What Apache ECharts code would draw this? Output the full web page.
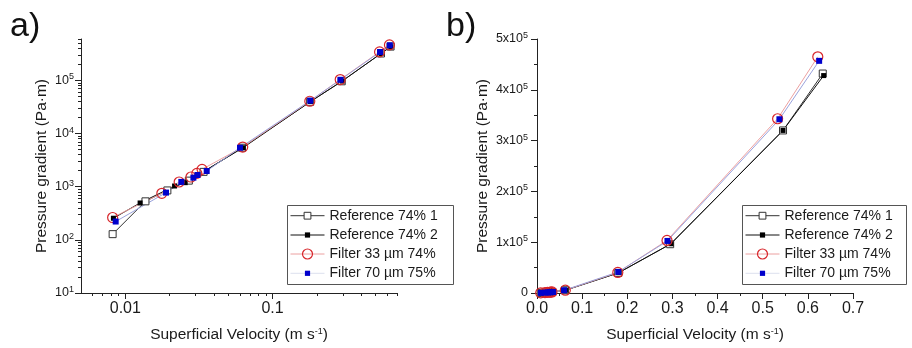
<!DOCTYPE html>
<html>
<head>
<meta charset="utf-8">
<script src="https://cdn.jsdelivr.net/npm/echarts@6/dist/echarts.min.js"></script>
<style>
html,body{margin:0;padding:0;background:#fff;}
#c{width:912px;height:348px;}
</style>
</head>
<body>
<div id="c"></div>
<script>
// ---- data ----
const seriesNames = ['Reference 74% 1', 'Reference 74% 2', 'Filter 33 µm 74%', 'Filter 70 µm 75%'];
const ref1X = [0.0082, 0.0137, 0.0193, 0.027, 0.034, 0.062, 0.18, 0.295, 0.545, 0.633];
const ref1Y = [128, 530, 850, 1300, 1900, 5400, 39500, 96000, 320000, 432000];
const ref2X = [0.0083, 0.0126, 0.0216, 0.0255, 0.063, 0.181, 0.297, 0.545, 0.635];
const ref2Y = [255, 494, 1030, 1190, 5400, 40000, 97000, 320000, 428000];
const f33X = [0.0082, 0.0177, 0.0232, 0.0279, 0.0306, 0.0332, 0.0627, 0.179, 0.288, 0.533, 0.622];
const f33Y = [263, 751, 1225, 1520, 1780, 2120, 5560, 40500, 103500, 343000, 465000];
const f70X = [0.0086, 0.0189, 0.024, 0.029, 0.0309, 0.0357, 0.0601, 0.18, 0.289, 0.537, 0.625];
const f70Y = [221, 774, 1230, 1480, 1660, 1970, 5400, 41500, 102500, 342000, 457000];

// tick values
const logXMajor = [0.01, 0.1];
const logXMinor = [0.006, 0.007, 0.008, 0.009, 0.02, 0.03, 0.04, 0.05, 0.06, 0.07, 0.08, 0.09, 0.2, 0.3, 0.4, 0.5, 0.6, 0.7];
const logYMajor = [10, 100, 1000, 10000, 100000];
const logYMinor = [20,30,40,50,60,70,80,90,200,300,400,500,600,700,800,900,2000,3000,4000,5000,6000,7000,8000,9000,20000,30000,40000,50000,60000,70000,80000,90000,200000,300000,400000,500000,600000];

const zip = (xs, ys) => xs.map((x, i) => [x, ys[i]]);
const FONT = "'Liberation Sans', Arial, sans-serif";
const TXT = '#1a1a1a';

const chart = echarts.init(document.getElementById('c'), null, {renderer: 'canvas'});

const supRich = {
  sup: {fontSize: 9, lineHeight: 9, verticalAlign: 'top', fontFamily: FONT, color: TXT}
};

const seriesStyles = [
  {symbol: 'rect', symbolSize: 7, lineStyle: {color: '#333', width: 1}, itemStyle: {color: '#fff', borderColor: '#333', borderWidth: 1}},
  {symbol: 'rect', symbolSize: 5, lineStyle: {color: '#111', width: 1}, itemStyle: {color: '#000', borderColor: '#000', borderWidth: 0}},
  {symbol: 'circle', symbolSize: 10, lineStyle: {color: '#eca0a0', width: 1}, itemStyle: {color: 'rgba(255,255,255,0)', borderColor: '#d8262b', borderWidth: 1.2}},
  {symbol: 'rect', symbolSize: 6, lineStyle: {color: '#9aa2dc', width: 1}, itemStyle: {color: '#0000cc', borderColor: '#0000cc', borderWidth: 0}}
];
const legendLineColors = ['#333', '#111', '#eca0a0', '#dde0ee'];
const legendIconHeights = [8.5, 6.5, 12.5, 6.5];

const allData = [zip(ref1X, ref1Y), zip(ref2X, ref2Y), zip(f33X, f33Y), zip(f70X, f70Y)];

const series = [];
[0, 1].forEach(g => {
  allData.forEach((d, i) => {
    series.push(Object.assign({
      name: seriesNames[i],
      type: 'line',
      xAxisIndex: g * 2,
      yAxisIndex: g * 2,
      data: d,
      animation: false,
      showAllSymbol: true,
      z: 2
    }, seriesStyles[i]));
  });
});

// legends: one per entry so each marker keeps its own size
const legendRowCenters = [215.7, 235, 254, 273.3];
const legends = [];
[290, 745].forEach(lx => {
  seriesNames.forEach((nm, i) => {
    const st = seriesStyles[i].itemStyle;
    legends.push({
      orient: 'vertical', left: lx, top: legendRowCenters[i] - 7, padding: 0,
      itemWidth: 34, itemHeight: legendIconHeights[i], z: 6,
      lineStyle: {width: 1, color: legendLineColors[i]},
      itemStyle: {color: st.color, borderColor: st.borderColor, borderWidth: st.borderWidth},
      textStyle: {fontFamily: FONT, fontSize: 14, color: TXT},
      data: [nm], selectedMode: false
    });
  });
});

const axisLine = {show: true, lineStyle: {color: '#222', width: 1}};
const titleStyle = {fontFamily: FONT, fontSize: 15.5, color: TXT, rich: {sup: {fontSize: 9, lineHeight: 9, verticalAlign: 'top', fontFamily: FONT, color: TXT}}};

const option = {
  animation: false,
  backgroundColor: '#fff',
  textStyle: {fontFamily: FONT},
  grid: [
    {left: 81, top: 39, width: 316, height: 255, containLabel: false},
    {left: 537, top: 39, width: 316, height: 255, containLabel: false}
  ],
  xAxis: [
    {gridIndex: 0, type: 'log', logBase: 10, min: 0.005, max: 0.7, position: 'bottom',
     axisLine: axisLine, splitLine: {show: false},
     axisTick: {show: true, inside: false, length: 6, customValues: logXMajor, lineStyle: {color: '#222'}},
     axisLabel: {show: true, margin: 8, fontSize: 16, color: TXT, fontFamily: FONT, customValues: logXMajor,
       formatter: v => String(Math.round(v * 100) / 100)},
     name: 'Superficial Velocity (m s{sup|-1})', nameLocation: 'middle', nameGap: 34, nameTextStyle: titleStyle},
    {gridIndex: 0, type: 'log', logBase: 10, min: 0.005, max: 0.7, position: 'bottom',
     axisLine: {show: false}, splitLine: {show: false}, axisLabel: {show: false},
     axisTick: {show: true, inside: false, length: 3, customValues: logXMinor, lineStyle: {color: '#222'}}},
    {gridIndex: 1, type: 'value', min: 0, max: 0.7, interval: 0.1, position: 'bottom',
     axisLine: axisLine, splitLine: {show: false},
     axisTick: {show: true, inside: false, length: 6, lineStyle: {color: '#222'}},
     minorTick: {show: true, splitNumber: 2, length: 3, lineStyle: {color: '#222'}},
     axisLabel: {margin: 8, fontSize: 16, color: TXT, fontFamily: FONT, formatter: v => v.toFixed(1)},
     name: 'Superficial Velocity (m s{sup|-1})', nameLocation: 'middle', nameGap: 34, nameTextStyle: titleStyle},
    {gridIndex: 1, type: 'value', min: 0, max: 0.7, show: false}
  ],
  yAxis: [
    {gridIndex: 0, type: 'log', logBase: 10, min: 10, max: 600000, position: 'left',
     axisLine: axisLine, splitLine: {show: false},
     axisTick: {show: true, inside: false, length: 6, customValues: logYMajor, lineStyle: {color: '#222'}},
     axisLabel: {show: true, margin: 7, fontSize: 12.5, lineHeight: 16, color: TXT, fontFamily: FONT, customValues: logYMajor,
       formatter: v => '10{sup|' + Math.round(Math.log10(v)) + '}', rich: supRich},
     name: 'Pressure gradient (Pa·m)', nameLocation: 'middle', nameGap: 31, nameTextStyle: titleStyle},
    {gridIndex: 0, type: 'log', logBase: 10, min: 10, max: 600000, position: 'left',
     axisLine: {show: false}, splitLine: {show: false}, axisLabel: {show: false},
     axisTick: {show: true, inside: false, length: 3, customValues: logYMinor, lineStyle: {color: '#222'}}},
    {gridIndex: 1, type: 'value', min: 0, max: 500000, interval: 100000, position: 'left',
     axisLine: axisLine, splitLine: {show: false},
     axisTick: {show: true, inside: false, length: 6, lineStyle: {color: '#222'}},
     minorTick: {show: true, splitNumber: 2, length: 3, lineStyle: {color: '#222'}},
     axisLabel: {margin: 9, fontSize: 12.5, lineHeight: 16, color: TXT, fontFamily: FONT,
       formatter: v => v === 0 ? '0' : Math.round(v / 100000) + 'x10{sup|5}', rich: supRich},
     name: 'Pressure gradient (Pa·m)', nameLocation: 'middle', nameGap: 46, nameTextStyle: titleStyle},
    {gridIndex: 1, type: 'value', min: 0, max: 500000, show: false}
  ],
  legend: legends,
  graphic: [
    {type: 'rect', left: 287, top: 205, z: 5, shape: {width: 166, height: 79}, style: {fill: '#fff', stroke: '#555', lineWidth: 1}},
    {type: 'rect', left: 742, top: 205, z: 5, shape: {width: 164, height: 79}, style: {fill: '#fff', stroke: '#555', lineWidth: 1}},
    {type: 'text', left: 10, top: 10, style: {text: 'a)', font: "34px 'Liberation Sans', Arial, sans-serif", fill: '#111'}},
    {type: 'text', left: 446, top: 10, style: {text: 'b)', font: "34px 'Liberation Sans', Arial, sans-serif", fill: '#111'}}
  ],
  series: series
};
chart.setOption(option);
</script>
</body>
</html>
